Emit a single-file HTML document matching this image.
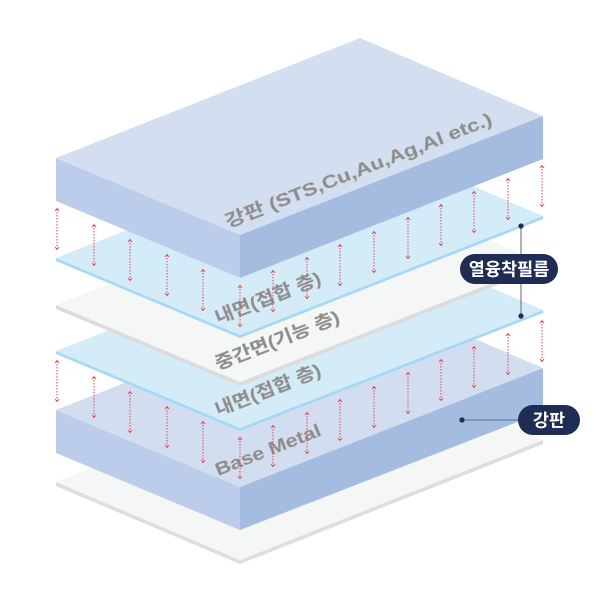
<!DOCTYPE html>
<html><head><meta charset="utf-8"><style>
html,body{margin:0;padding:0;background:#fff;}
svg{display:block;}
.t{font-family:"Liberation Sans","Noto Sans CJK KR",sans-serif;font-weight:bold;fill:#8c8c8c;stroke:#b0b0b0;stroke-width:0.4;}
.p{font-family:"Liberation Sans","Noto Sans CJK KR",sans-serif;font-weight:bold;fill:#fff;font-size:17.5px;}
</style></head><body>
<svg width="600" height="600" viewBox="0 0 600 600" xmlns="http://www.w3.org/2000/svg">
<defs>
<g id="ar">
<line x1="0" y1="1" x2="0" y2="41" stroke="#e0465a" stroke-width="1" stroke-dasharray="1.5,1.5"/>
<path d="M-2,3 L0,0.5 L2,3 M-2,39 L0,41.5 L2,39" fill="none" stroke="#e0465a" stroke-width="0.9"/>
</g>
</defs>
<polygon points="56,482 240,560 543,440 543,444 240,564 56,486" fill="#dedede"/>
<polygon points="56,482 360,362 543,440 240,560" fill="#f5f6f6"/>
<polygon points="56,410 240,487 240,530 56,453" fill="#bccdeb"/>
<polygon points="240,487 543,368 543,412 240,530" fill="#a3bce0"/>
<polygon points="56,410 360,290 543,368 240,487" fill="#d3ddf0"/>
<text class="t" font-size="18" textLength="112" lengthAdjust="spacingAndGlyphs" transform="translate(218,476) rotate(-21.4)">Base Metal</text>
<g>
<use href="#ar" x="57" y="360"/><use href="#ar" x="94" y="376"/><use href="#ar" x="130" y="391"/>
<use href="#ar" x="167" y="406"/><use href="#ar" x="203" y="421"/><use href="#ar" x="240" y="437"/>
<use href="#ar" x="273" y="425"/><use href="#ar" x="307" y="412"/><use href="#ar" x="340" y="399"/>
<use href="#ar" x="374" y="386"/><use href="#ar" x="408" y="372"/><use href="#ar" x="441" y="359"/>
<use href="#ar" x="474" y="346"/><use href="#ar" x="508" y="333"/><use href="#ar" x="542" y="320"/>
</g>
<polygon points="56,351 240,428 543,310 543,313 240,431 56,354" fill="#a6d8f5"/>
<polygon points="56,351 360,231 543,310 240,428" fill="#d4ebf8"/>
<text class="t" font-size="18" textLength="112" lengthAdjust="spacingAndGlyphs" transform="translate(218,416) rotate(-21.4)">내면(접합 층)</text>
<polygon points="56,305 240,382 543,263 543,267 240,386 56,309" fill="#dcdcdc"/>
<polygon points="56,305 360,185 543,263 240,382" fill="#f5f6f6"/>
<text class="t" font-size="18" textLength="132" lengthAdjust="spacingAndGlyphs" transform="translate(218,370) rotate(-21.4)">중간면(기능 층)</text>
<polygon points="56,258 240,335 543,216 543,219 240,338 56,261" fill="#a6d8f5"/>
<polygon points="56,258 360,138 543,216 240,335" fill="#d4ebf8"/>
<text class="t" font-size="18" textLength="112" lengthAdjust="spacingAndGlyphs" transform="translate(218,324) rotate(-21.4)">내면(접합 층)</text>
<g>
<use href="#ar" x="57" y="208"/><use href="#ar" x="94" y="224"/><use href="#ar" x="130" y="239"/>
<use href="#ar" x="167" y="254"/><use href="#ar" x="203" y="269"/><use href="#ar" x="240" y="285"/>
<use href="#ar" x="273" y="270"/><use href="#ar" x="307" y="257"/><use href="#ar" x="340" y="244"/>
<use href="#ar" x="374" y="231"/><use href="#ar" x="408" y="217"/><use href="#ar" x="441" y="204"/>
<use href="#ar" x="474" y="191"/><use href="#ar" x="508" y="178"/><use href="#ar" x="542" y="165"/>
</g>
<polygon points="56,158 240,235 240,278 56,201" fill="#bccdeb"/>
<polygon points="240,235 543,116 543,159 240,278" fill="#a3bce0"/>
<polygon points="56,158 360,38 543,116 240,235" fill="#d3def0"/>
<text class="t" font-size="18" textLength="285" lengthAdjust="spacingAndGlyphs" transform="translate(228,228) rotate(-21.4)">강판 (STS,Cu,Au,Ag,Al etc.)</text>
<line x1="521" y1="226" x2="521" y2="316" stroke="#5a6a8a" stroke-width="1"/>
<circle cx="521" cy="226" r="2.6" fill="#1f2d55"/>
<circle cx="521" cy="316" r="2.6" fill="#1f2d55"/>
<rect x="460" y="254" width="98" height="30" rx="15" fill="#1f2d55"/>
<text class="p" x="509" y="275.5" text-anchor="middle">열융착필름</text>
<line x1="462" y1="420" x2="520" y2="420" stroke="#5a6a8a" stroke-width="1"/>
<circle cx="462" cy="420" r="2.6" fill="#1f2d55"/>
<rect x="518" y="405" width="62" height="30" rx="15" fill="#1f2d55"/>
<text class="p" x="549" y="426.5" text-anchor="middle">강판</text>
</svg>
</body></html>
